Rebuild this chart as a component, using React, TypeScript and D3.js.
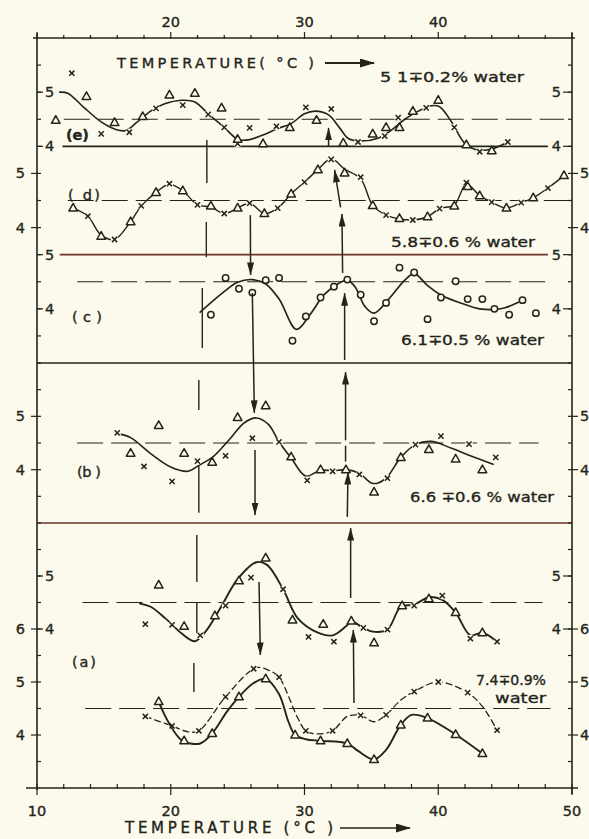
import React from 'react';
import * as d3 from 'd3';

const W = 589;
const H = 839;
const INK = '#23241b';
const PAPER = '#fbfaec';
const RUST = '#6e3424';

// temperature axis
const tempTicks = d3.range(10, 51, 2);
const bottomLabels = [10, 20, 30, 40, 50];
const topLabels = [20, 30, 40];

// (e) 5.1 % water
const eCrosses = [[12.6, 5.35], [14.8, 4.23], [16.9, 4.26], [18.9, 4.7], [20.9, 4.76], [22.8, 4.59], [24.0, 4.35], [25.0, 4.05], [25.9, 4.34], [27.9, 4.37], [30.1, 4.72], [32.0, 4.69], [32.0, 3.77], [34.0, 4.08], [36.0, 4.19], [37.0, 4.53], [39.1, 4.71], [41.2, 4.35], [43.1, 3.9], [45.2, 4.08]];
const eTriangles = [[11.4, 4.48], [13.7, 4.92], [15.8, 4.44], [17.9, 4.55], [19.9, 4.95], [21.8, 4.98], [23.8, 4.71], [25.0, 4.13], [26.9, 4.05], [28.9, 4.35], [30.9, 4.48], [32.9, 4.06], [35.1, 4.23], [36.1, 4.35], [37.1, 4.35], [38.1, 4.65], [40.0, 4.85], [42.1, 4.03], [44.0, 3.92]];
const eCurve = [[11.7, 5.0], [12.3, 4.98], [13.5, 4.72], [14.8, 4.45], [15.8, 4.32], [16.6, 4.29], [17.5, 4.45], [18.5, 4.65], [19.5, 4.78], [20.8, 4.85], [21.8, 4.82], [22.8, 4.6], [24.0, 4.35], [25.0, 4.13], [25.8, 4.12], [27.0, 4.22], [28.0, 4.33], [29.0, 4.42], [30.0, 4.6], [30.8, 4.65], [31.8, 4.58], [32.6, 4.35], [33.3, 4.14], [34.2, 4.1], [35.5, 4.15], [36.5, 4.3], [37.5, 4.5], [38.5, 4.65], [39.5, 4.75], [40.1, 4.73], [41.0, 4.45], [42.0, 4.05], [43.0, 3.93], [44.0, 3.95], [45.2, 4.08]];

// (d) 5.8 % water
const dCrosses = [[13.8, 4.21], [15.8, 3.78], [17.8, 4.4], [19.9, 4.81], [22.0, 4.42], [24.0, 4.26], [25.9, 4.45], [28.0, 4.36], [30.0, 4.84], [32.0, 5.26], [34.2, 4.93], [36.1, 4.23], [38.1, 4.14], [40.1, 4.35], [42.1, 4.83], [44.0, 4.47], [46.2, 4.46], [48.2, 4.73]];
const dTriangles = [[12.7, 4.36], [14.8, 3.84], [17.0, 4.11], [18.9, 4.65], [20.9, 4.68], [23.0, 4.4], [25.0, 4.36], [27.0, 4.26], [29.0, 4.62], [31.0, 5.07], [33.0, 5.01], [35.1, 4.41], [37.1, 4.17], [39.2, 4.2], [41.2, 4.4], [42.2, 4.76], [43.1, 4.59], [45.1, 4.36], [47.1, 4.55], [49.4, 4.96]];
const dCurve = [[12.7, 4.36], [13.8, 4.21], [14.8, 3.86], [15.8, 3.78], [17.0, 4.11], [17.8, 4.4], [18.9, 4.65], [19.9, 4.8], [20.9, 4.68], [22.0, 4.42], [23.0, 4.38], [24.0, 4.26], [25.0, 4.36], [25.9, 4.45], [27.0, 4.26], [28.0, 4.36], [29.0, 4.62], [30.0, 4.84], [31.0, 5.07], [32.0, 5.27], [33.0, 5.08], [34.2, 4.9], [35.1, 4.41], [36.1, 4.23], [37.1, 4.16], [38.1, 4.14], [39.2, 4.2], [40.1, 4.35], [41.2, 4.42], [42.1, 4.8], [43.1, 4.59], [44.0, 4.47], [45.1, 4.36], [46.2, 4.46], [47.1, 4.55], [48.2, 4.73], [49.4, 4.96]];

// (c) 6.1 % water
const cCircles = [[23.0, 3.89], [24.1, 4.57], [25.1, 4.37], [26.1, 4.3], [27.1, 4.53], [28.1, 4.57], [29.1, 3.41], [30.1, 3.86], [31.2, 4.21], [32.2, 4.41], [33.2, 4.54], [34.2, 4.26], [35.2, 3.77], [36.1, 4.11], [37.1, 4.76], [38.2, 4.67], [39.2, 3.81], [40.2, 4.21], [41.3, 4.51], [42.2, 4.18], [43.3, 4.18], [44.2, 4.0], [45.3, 3.89], [46.3, 4.16], [47.3, 3.92]];
const cCurve = [[22.2, 3.94], [23.9, 4.3], [25.0, 4.49], [26.1, 4.54], [27.1, 4.46], [28.1, 4.18], [29.4, 3.62], [30.4, 3.89], [31.5, 4.27], [32.7, 4.49], [33.2, 4.53], [33.8, 4.4], [34.5, 4.05], [35.2, 3.92], [36.3, 4.18], [37.5, 4.53], [38.2, 4.65], [39.2, 4.43], [40.3, 4.24], [42.0, 4.08], [43.1, 4.0], [44.3, 3.99], [45.0, 4.02], [46.0, 4.12]];

// (b) 6.6 % water
const bCrosses = [[16.0, 4.69], [18.0, 4.06], [20.1, 3.78], [22.0, 4.16], [24.1, 4.26], [26.1, 4.59], [28.1, 4.52], [30.2, 3.8], [32.1, 3.97], [34.1, 3.91], [36.2, 3.84], [38.3, 4.47], [40.2, 4.63], [42.3, 4.48], [44.3, 4.23]];
const bTriangles = [[17.0, 4.31], [19.1, 4.83], [21.0, 4.31], [23.1, 4.14], [25.0, 4.98], [27.1, 5.2], [29.0, 4.24], [31.2, 4.0], [33.1, 4.0], [35.2, 3.58], [37.2, 4.23], [39.3, 4.38], [41.3, 4.2], [43.3, 4.0]];
const bCurve = [[16.0, 4.68], [17.0, 4.6], [18.5, 4.3], [20.0, 4.05], [21.3, 3.97], [22.1, 4.08], [23.2, 4.25], [24.5, 4.6], [25.5, 4.88], [26.4, 4.97], [27.3, 4.85], [28.1, 4.52], [29.0, 4.22], [30.1, 3.88], [31.2, 3.99], [32.1, 3.98], [33.1, 4.0], [34.1, 3.93], [35.0, 3.75], [35.5, 3.75], [36.2, 3.87], [37.2, 4.23], [38.3, 4.47], [39.5, 4.53], [41.0, 4.4], [42.5, 4.25], [44.1, 4.1]];

// (a) 7.4 % water, upper trace
const aUpCrosses = [[18.1, 4.09], [20.1, 4.08], [22.2, 3.88], [24.1, 4.44], [26.0, 4.97], [28.4, 4.75], [30.3, 3.85], [32.2, 3.76], [34.4, 4.02], [36.2, 3.99], [38.2, 4.44], [40.3, 4.63], [42.4, 3.82], [44.4, 3.76]];
const aUpTriangles = [[19.1, 4.83], [21.0, 4.05], [23.3, 4.25], [25.1, 4.91], [27.1, 5.34], [29.1, 4.17], [31.4, 4.09], [33.5, 4.15], [35.2, 3.74], [37.3, 4.44], [39.3, 4.57], [41.3, 4.31], [43.3, 3.93]];
const aUpCurve = [[17.7, 4.48], [18.5, 4.42], [19.6, 4.2], [20.8, 3.92], [21.8, 3.77], [22.6, 3.95], [23.7, 4.39], [25.0, 4.94], [26.4, 5.26], [27.2, 5.21], [28.4, 4.75], [29.5, 4.2], [31.0, 3.93], [32.1, 3.88], [33.1, 4.05], [33.5, 4.14], [34.4, 4.02], [35.1, 3.95], [36.2, 3.99], [37.2, 4.42], [38.2, 4.46], [39.3, 4.6], [40.3, 4.55], [41.3, 4.31], [42.4, 3.88], [43.3, 3.93], [44.4, 3.76]];

// (a) lower traces: crosses (dashed) and triangles (solid)
const aLowCrosses = [[18.1, 4.35], [20.1, 4.17], [22.1, 4.08], [24.1, 4.72], [26.2, 5.25], [28.1, 5.09], [30.1, 4.08], [32.1, 4.08], [34.2, 4.37], [36.1, 4.38], [38.2, 4.82], [40.0, 5.0], [42.2, 4.8], [44.4, 4.09]];
const aLowCrossCurve = [[18.1, 4.35], [20.1, 4.17], [21.3, 4.06], [22.1, 4.08], [24.1, 4.72], [26.4, 5.27], [27.5, 5.2], [28.1, 5.09], [29.5, 4.32], [30.1, 4.08], [31.0, 4.02], [32.1, 4.08], [33.2, 4.35], [34.2, 4.37], [35.2, 4.25], [36.1, 4.38], [37.2, 4.66], [38.2, 4.82], [40.0, 5.0], [42.2, 4.8], [43.3, 4.54], [44.4, 4.09]];
const aLowTriangles = [[19.1, 4.63], [21.0, 3.89], [23.1, 4.03], [25.1, 4.72], [27.1, 5.06], [29.3, 4.0], [31.2, 3.89], [33.2, 3.84], [35.2, 3.54], [37.2, 4.19], [39.2, 4.32], [41.3, 4.01], [43.3, 3.65]];
const aLowTriCurve = [[19.1, 4.63], [19.7, 4.3], [20.6, 3.95], [21.0, 3.87], [22.2, 3.84], [23.1, 4.03], [24.2, 4.44], [25.1, 4.72], [26.2, 4.98], [27.1, 5.06], [28.1, 4.77], [28.8, 4.25], [29.3, 4.0], [30.1, 3.92], [31.2, 3.89], [33.2, 3.84], [34.0, 3.7], [35.2, 3.54], [36.1, 3.72], [37.2, 4.19], [38.0, 4.38], [39.2, 4.32], [41.3, 4.01], [43.3, 3.65]];

// row (half-unit grid index) of the value 4 in each trace's own scale
const baseRows = { e: 4, d: 7, c: 10, b: 16, aUp: 22, aLow: 26 };

// mean (4.5) dashed reference lines: [row, from T, to T]
const meanLines = [[3, 12.0, 49.4], [6, 12.3, 49.7], [9, 13.0, 48.1], [15, 13.0, 47.5], [21, 13.4, 47.8], [25, 13.6, 48.4]];
// solid separator lines inside the top box: [row, from T, to T, colour]
const innerLines = [[4, 11.9, 48.2, INK], [8, 11.7, 48.2, RUST]];

// axis value labels: [text, row, side]
const valueLabels = [['5', 2, 'in'], ['4', 4, 'in'], ['5', 5, 'out'], ['4', 7, 'out'], ['5', 8, 'in'], ['4', 10, 'in'], ['5', 14, 'out'], ['4', 16, 'out'], ['5', 20, 'in'], ['4', 22, 'in'], ['6', 22, 'out'], ['5', 24, 'out'], ['4', 26, 'out']];

// transition arrows: [T1, row1, T2, row2] (head at the second point)
const downArrows = [[25.95, 6.54, 25.97, 8.75], [26.1, 9.42, 26.25, 13.87], [26.3, 15.26, 26.3, 17.7], [26.6, 20.23, 26.7, 22.98]];
const upArrows = [[31.8, 4.02, 31.8, 3.32], [32.85, 8.68, 32.8, 6.5], [32.7, 6.25, 32.25, 4.87], [33.0, 11.89, 33.0, 9.42], [33.07, 14.9, 33.07, 12.34], [33.2, 17.77, 33.25, 16.09], [33.45, 20.83, 33.45, 18.19], [33.7, 24.79, 33.65, 22.04]];
const plainTicks = [[33.07, 15.1, 33.07, 15.7]];
// long dashed guide near 22 C: [T, row1, row2]
const guideSegments = [[22.7, 3.77, 5.35], [22.66, 6.79, 8.09], [22.36, 9.23, 11.45], [22.1, 12.64, 13.76], [22.1, 15.56, 17.62], [21.95, 18.45, 20.23], [21.95, 21.02, 22.15], [21.73, 23.28, 24.38]];

const xT = d3.scaleLinear().domain([10, 50]).range([37, 572]);
const yRow = d3.scaleLinear().domain([0, 12, 18, 28]).range([38, 363, 523, 788]);
const valueScale = (row4: number) => d3.scaleLinear().domain([4, 5]).range([yRow(row4), yRow(row4 - 2)]);

const Tri = ({ x, y }: { x: number; y: number }) => (
  <path d={`M${x},${y - 4.6}L${x + 4.3},${y + 3}L${x - 4.3},${y + 3}Z`} fill={PAPER} stroke={INK} strokeWidth={1.5} strokeLinejoin="round" />
);
const Cross = ({ x, y }: { x: number; y: number }) => (
  <g>
    <circle cx={x} cy={y} r={3.8} fill={PAPER} />
    <path d={`M${x - 2.6},${y - 2.6}L${x + 2.6},${y + 2.6}M${x - 2.6},${y + 2.6}L${x + 2.6},${y - 2.6}`} stroke={INK} strokeWidth={1.5} />
  </g>
);
const Ring = ({ x, y }: { x: number; y: number }) => (
  <circle cx={x} cy={y} r={3.2} fill={PAPER} stroke={INK} strokeWidth={1.5} />
);

export default function App() {
  const series = [
    { key: 'e', row: baseRows.e, curve: eCurve, crosses: eCrosses, tris: eTriangles, rings: [], dash: undefined, sw: 1.6 },
    { key: 'd', row: baseRows.d, curve: dCurve, crosses: dCrosses, tris: dTriangles, rings: [], dash: undefined, sw: 1.4 },
    { key: 'c', row: baseRows.c, curve: cCurve, crosses: [], tris: [], rings: cCircles, dash: undefined, sw: 1.7 },
    { key: 'b', row: baseRows.b, curve: bCurve, crosses: bCrosses, tris: bTriangles, rings: [], dash: undefined, sw: 1.6 },
    { key: 'aUp', row: baseRows.aUp, curve: aUpCurve, crosses: aUpCrosses, tris: aUpTriangles, rings: [], dash: undefined, sw: 1.9 },
    { key: 'aLowX', row: baseRows.aLow, curve: aLowCrossCurve, crosses: aLowCrosses, tris: [], rings: [], dash: '6,4', sw: 1.3 },
    { key: 'aLowT', row: baseRows.aLow, curve: aLowTriCurve, crosses: [], tris: aLowTriangles, rings: [], dash: undefined, sw: 1.9 },
  ];

  const arrow = (a: number[], i: number, key: string) => (
    <line key={key + i} x1={xT(a[0])} y1={yRow(a[1])} x2={xT(a[2])} y2={yRow(a[3])} stroke={INK} strokeWidth={1.5} markerEnd="url(#ah)" />
  );

  const font = '"DejaVu Sans", "Liberation Sans", sans-serif';

  return (
    <div style={{ position: 'absolute', left: 0, top: 0, width: W, height: H, background: PAPER }}>
      <svg width={W} height={H} style={{ display: 'block', fontFamily: font }}>
        <defs>
          <marker id="ah" viewBox="0 0 13 7" refX={12.5} refY={3.5} markerWidth={13} markerHeight={7} markerUnits="userSpaceOnUse" orient="auto">
            <path d="M0,0L13,3.5L0,7Z" fill={INK} />
          </marker>
          <marker id="bigah" viewBox="0 0 15 9" refX={14} refY={4.5} markerWidth={15} markerHeight={9} markerUnits="userSpaceOnUse" orient="auto">
            <path d="M0,0L15,4.5L0,9Z" fill={INK} />
          </marker>
        </defs>
        <rect width={W} height={H} fill={PAPER} />

        {/* frame */}
        <g stroke={INK} strokeWidth={1.6}>
          <line x1={xT(10)} y1={33} x2={xT(10)} y2={yRow(28) + 2} />
          <line x1={xT(50)} y1={33} x2={xT(50)} y2={yRow(28) + 6} />
          <line x1={xT(10) - 4} y1={yRow(0)} x2={xT(50) + 3} y2={yRow(0)} />
          <line x1={26} y1={yRow(28)} x2={578} y2={yRow(28)} />
          <line x1={xT(10)} y1={yRow(12)} x2={xT(50)} y2={yRow(12)} strokeWidth={1.4} />
          <line x1={xT(10)} y1={yRow(18)} x2={xT(50)} y2={yRow(18)} stroke={RUST} strokeWidth={1.4} />
        </g>

        {/* temperature ticks */}
        <g stroke={INK} strokeWidth={1.2}>
          {tempTicks.map(t => (
            <g key={t}>
              <line x1={xT(t)} x2={xT(t)} y1={yRow(0) - (t % 10 === 0 ? 6 : 3)} y2={yRow(0) + 1} />
              <line x1={xT(t)} x2={xT(t)} y1={yRow(28) - 4} y2={yRow(28) + (t % 10 === 0 ? 7 : 1)} />
            </g>
          ))}
        </g>
        <g fontSize={14.5} fill={INK} stroke={INK} strokeWidth={0.35} textAnchor="middle">
          {topLabels.map(t => <text key={t} x={xT(t)} y={27}>{t}</text>)}
          {bottomLabels.map(t => <text key={t} x={xT(t)} y={816}>{t}</text>)}
        </g>

        {/* value ticks every half unit */}
        <g stroke={INK} strokeWidth={1.2}>
          {d3.range(1, 28).map(r => (
            <g key={r}>
              <line x1={xT(10)} x2={xT(10) + 4} y1={yRow(r)} y2={yRow(r)} />
              <line x1={xT(50) - 4} x2={xT(50)} y1={yRow(r)} y2={yRow(r)} />
            </g>
          ))}
        </g>
        <g fontSize={14.5} fill={INK}>
          {valueLabels.map(([txt, r, side], i) => {
            const y = yRow(r as number);
            const inside = side === 'in';
            return (
              <g key={i}>
                <line x1={inside ? xT(10) : xT(10) - 6} x2={inside ? xT(10) + 6 : xT(10)} y1={y} y2={y} stroke={INK} strokeWidth={1.2} />
                <line x1={inside ? xT(50) - 9 : xT(50)} x2={inside ? xT(50) : xT(50) + 6} y1={y} y2={y} stroke={INK} strokeWidth={1.2} />
                <text x={inside ? xT(10) + 8 : xT(10) - 12} y={y + 5} textAnchor={inside ? 'start' : 'end'} stroke={INK} strokeWidth={0.35}>{txt}</text>
                <text x={inside ? xT(50) - 11 : xT(50) + 8} y={y + 5} textAnchor={inside ? 'end' : 'start'} stroke={INK} strokeWidth={0.35}>{txt}</text>
              </g>
            );
          })}
        </g>

        {/* inner separators and mean lines */}
        {innerLines.map(([r, t1, t2, col], i) => (
          <line key={'in' + i} x1={xT(t1 as number)} x2={xT(t2 as number)} y1={yRow(r as number)} y2={yRow(r as number)} stroke={col as string} strokeWidth={1.6} />
        ))}
        {meanLines.map(([r, t1, t2], i) => (
          <line key={'m' + i} x1={xT(t1)} x2={xT(t2)} y1={yRow(r)} y2={yRow(r)} stroke={INK} strokeWidth={1} strokeDasharray="26,8" />
        ))}

        {/* guide and arrows */}
        {guideSegments.map(([t, r1, r2], i) => (
          <line key={'g' + i} x1={xT(t)} x2={xT(t)} y1={yRow(r1)} y2={yRow(r2)} stroke={INK} strokeWidth={1.4} />
        ))}
        {plainTicks.map((a, i) => (
          <line key={'p' + i} x1={xT(a[0])} y1={yRow(a[1])} x2={xT(a[2])} y2={yRow(a[3])} stroke={INK} strokeWidth={1.5} />
        ))}

        {/* traces */}
        {series.map(s => {
          const y = valueScale(s.row);
          const line = d3.line<number[]>().x(d => xT(d[0])).y(d => y(d[1])).curve(d3.curveCatmullRom.alpha(0.5));
          return (
            <g key={s.key}>
              <path d={line(s.curve) || ''} fill="none" stroke={INK} strokeWidth={s.sw} strokeDasharray={s.dash} strokeLinecap="round" />
              {s.crosses.map((p, i) => <Cross key={'x' + i} x={xT(p[0])} y={y(p[1])} />)}
              {s.tris.map((p, i) => <Tri key={'t' + i} x={xT(p[0])} y={y(p[1])} />)}
              {s.rings.map((p, i) => <Ring key={'o' + i} x={xT(p[0])} y={y(p[1])} />)}
            </g>
          );
        })}

        {downArrows.map((a, i) => arrow(a, i, 'dn'))}
        {upArrows.map((a, i) => arrow(a, i, 'up'))}

        {/* panel labels and water contents */}
        <g fill={INK} stroke={INK} strokeWidth={0.35} fontSize={14.5}>
          <text x={117} y={68} textLength={197} lengthAdjust="spacing">TEMPERATURE( °C )</text>
          <text x={380} y={82} textLength={144} lengthAdjust="spacingAndGlyphs">5 1∓0.2% water</text>
          <text x={391} y={247} textLength={144} lengthAdjust="spacingAndGlyphs">5.8∓0.6 % water</text>
          <text x={401} y={345} textLength={143} lengthAdjust="spacingAndGlyphs">6.1∓0.5 % water</text>
          <text x={410} y={502} textLength={144} lengthAdjust="spacingAndGlyphs">6.6 ∓0.6 % water</text>
          <text x={476} y={685} textLength={70} lengthAdjust="spacingAndGlyphs">7.4∓0.9%</text>
          <text x={495} y={703} textLength={51} lengthAdjust="spacingAndGlyphs">water</text>
          <text x={66} y={140} fontWeight="bold" textLength={23}>(e)</text>
          <text x={68} y={200} textLength={32} lengthAdjust="spacing">( d)</text>
          <text x={72} y={322} textLength={30} lengthAdjust="spacing">( c )</text>
          <text x={77} y={477} textLength={24} lengthAdjust="spacing">(b )</text>
          <text x={72} y={667} textLength={24}>(a)</text>
          <text x={125} y={833} fontSize={15} textLength={208} lengthAdjust="spacing">TEMPERATURE (°C )</text>
        </g>
        <line x1={62} x2={62} y1={0} y2={0} stroke="none" />
        <line x1={340} x2={410} y1={828} y2={828} stroke={INK} strokeWidth={1.7} markerEnd="url(#bigah)" />
        <line x1={325} x2={374} y1={63} y2={63} stroke={INK} strokeWidth={1.8} markerEnd="url(#bigah)" />
      </svg>
    </div>
  );
}
